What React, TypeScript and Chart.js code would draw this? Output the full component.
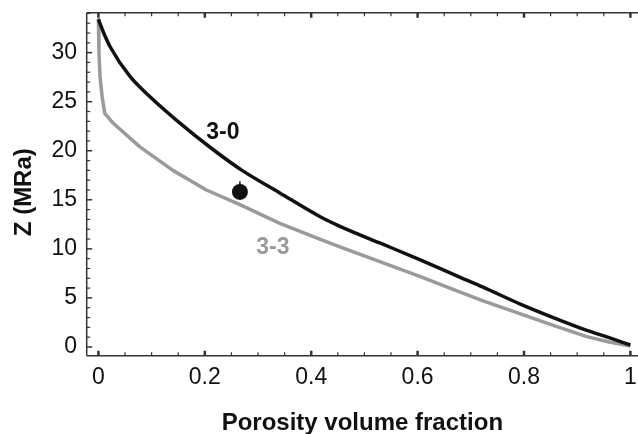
import React, { useEffect, useRef } from "react";
import { Chart, registerables } from "chart.js";

Chart.register(...registerables);

// ---- Data ----
const curve30X = [0, 0.01, 0.022, 0.059, 0.097, 0.147, 0.216, 0.27, 0.341, 0.416, 0.454, 0.529, 0.604, 0.68, 0.723, 0.792, 0.855, 0.918, 0.96, 1.0];
const curve30Y = [33.4, 32.0, 30.6, 27.6, 25.5, 23.1, 20.1, 18.0, 15.7, 13.3, 12.3, 10.6, 8.9, 7.1, 6.1, 4.4, 3.0, 1.7, 0.95, 0.2];

const curve33X = [0, 0.001, 0.003, 0.007, 0.012, 0.028, 0.078, 0.14, 0.203, 0.266, 0.341, 0.416, 0.454, 0.529, 0.604, 0.68, 0.723, 0.792, 0.855, 0.918, 0.96, 1.0];
const curve33Y = [33.4, 30.0, 27.6, 25.5, 23.8, 22.8, 20.4, 18.0, 16.0, 14.5, 12.6, 11.0, 10.2, 8.7, 7.2, 5.6, 4.7, 3.4, 2.2, 1.05, 0.5, 0.1];

const pointX = [0.266];
const pointY = [15.8];
const pointErrTop = [16.9];

const labelTexts = ["3-0", "3-3"];
const labelX = [0.234, 0.328];
const labelY = [21.8, 10.1];
const labelColors = ["#111111", "#999999"];

const xTickValues = [0, 0.2, 0.4, 0.6, 0.8, 1];
const yTickValues = [0, 5, 10, 15, 20, 25, 30];
const xMinorStep = 0.05;
const yMinorStep = 1;

const xTitle = "Porosity volume fraction";
const yTitle = "Z (MRa)";

const X_MIN = -0.022;
const X_MAX = 1.0143;
const Y_MIN = -0.89;
const Y_MAX = 34.07;

const FONT = "'Liberation Sans', Arial, Helvetica, sans-serif";

const framePlugin = {
  id: "frame",
  afterDatasetsDraw(chart: any) {
    const { ctx, chartArea, scales } = chart;
    const { left, top, bottom } = chartArea;
    const xs = scales.x;
    const ys = scales.y;
    const W = chart.width;
    ctx.save();
    ctx.strokeStyle = "#333333";
    ctx.lineWidth = 1.5;
    ctx.beginPath();
    ctx.moveTo(left, top);
    ctx.lineTo(W, top);
    ctx.moveTo(left, top);
    ctx.lineTo(left, bottom);
    ctx.moveTo(left, bottom);
    ctx.lineTo(W, bottom);
    ctx.stroke();

    const i0 = Math.ceil(xs.min / xMinorStep - 1e-9);
    const i1 = Math.floor(xs.max / xMinorStep + 1e-9);
    for (let i = i0; i <= i1; i++) {
      const v = i * xMinorStep;
      const major = xTickValues.some((t) => Math.abs(t - v) < 1e-6);
      const px = xs.getPixelForValue(v);
      ctx.lineWidth = major ? 2.5 : 1.2;
      const len = major ? 5 : 3.5;
      ctx.beginPath();
      ctx.moveTo(px, bottom);
      ctx.lineTo(px, bottom - len);
      ctx.moveTo(px, top);
      ctx.lineTo(px, top + len);
      ctx.stroke();
    }
    const j0 = Math.ceil(ys.min / yMinorStep - 1e-9);
    const j1 = Math.floor(ys.max / yMinorStep + 1e-9);
    for (let j = j0; j <= j1; j++) {
      const v = j * yMinorStep;
      const major = yTickValues.some((t) => Math.abs(t - v) < 1e-6);
      const py = ys.getPixelForValue(v);
      ctx.lineWidth = major ? 1.5 : 1.2;
      const len = major ? 5.5 : 3.5;
      ctx.beginPath();
      ctx.moveTo(left, py);
      ctx.lineTo(left + len, py);
      ctx.stroke();
    }

    ctx.font = `bold 23px ${FONT}`;
    ctx.textAlign = "center";
    ctx.textBaseline = "middle";
    for (let k = 0; k < labelTexts.length; k++) {
      ctx.fillStyle = labelColors[k];
      ctx.fillText(labelTexts[k], xs.getPixelForValue(labelX[k]), ys.getPixelForValue(labelY[k]));
    }

    // y-axis title (slightly below the axis centre, as in the reference)
    ctx.font = `bold 24px ${FONT}`;
    ctx.fillStyle = "#111111";
    ctx.translate(24, (top + bottom) / 2 + 8);
    ctx.rotate(-Math.PI / 2);
    ctx.fillText(yTitle, 0, 0);
    ctx.restore();
  },
};

const zeroPadding = (scale: any) => {
  scale.paddingTop = 0;
  scale.paddingBottom = 0;
  scale.paddingLeft = 0;
  scale.paddingRight = 0;
};

export default function App() {
  const canvasRef = useRef<HTMLCanvasElement | null>(null);

  useEffect(() => {
    if (!canvasRef.current) return;
    const chart = new Chart(canvasRef.current, {
      type: "scatter",
      data: {
        datasets: [
          {
            label: "3-3",
            data: curve33X.map((x, i) => ({ x, y: curve33Y[i] })),
            showLine: true,
            borderColor: "#9a9a9a",
            borderWidth: 3.5,
            borderJoinStyle: "round",
            pointRadius: 0,
            tension: 0,
            order: 3,
          },
          {
            label: "3-0",
            data: curve30X.map((x, i) => ({ x, y: curve30Y[i] })),
            showLine: true,
            borderColor: "#111111",
            borderWidth: 3.5,
            pointRadius: 0,
            cubicInterpolationMode: "monotone",
            order: 2,
          },
          {
            label: "err",
            data: [
              { x: pointX[0], y: pointY[0] },
              { x: pointX[0], y: pointErrTop[0] },
            ],
            showLine: true,
            borderColor: "#111111",
            borderWidth: 1.5,
            pointRadius: 0,
            order: 1,
          },
          {
            label: "measured",
            data: pointX.map((x, i) => ({ x, y: pointY[i] })),
            backgroundColor: "#111111",
            borderColor: "#111111",
            pointRadius: 8,
            pointBorderWidth: 0,
            order: 0,
          },
        ],
      },
      options: {
        animation: false,
        responsive: false,
        maintainAspectRatio: false,
        devicePixelRatio: 1,
        layout: { autoPadding: false, padding: { top: 12.7, left: 0, right: 0, bottom: 0 } },
        plugins: {
          legend: { display: false },
          tooltip: { enabled: false },
        },
        scales: {
          x: {
            type: "linear",
            min: X_MIN,
            max: X_MAX,
            grid: { display: false, drawTicks: false, tickLength: 0 },
            border: { display: false },
            afterBuildTicks: (scale: any) => {
              scale.ticks = xTickValues.map((v) => ({ value: v }));
            },
            afterFit: (scale: any) => {
              scale.height = 78.3;
              zeroPadding(scale);
            },
            ticks: {
              autoSkip: false,
              maxRotation: 0,
              padding: 8,
              color: "#111111",
              font: { family: FONT, size: 23 },
              callback: (v: any) => Number(v).toString(),
            },
            title: {
              display: true,
              text: xTitle,
              color: "#111111",
              font: { family: FONT, size: 24, weight: "bold", lineHeight: 0.875 },
              padding: { top: 21.7, bottom: 0 },
            },
          },
          y: {
            type: "linear",
            min: Y_MIN,
            max: Y_MAX,
            grid: { display: false, drawTicks: false, tickLength: 0 },
            border: { display: false },
            afterBuildTicks: (scale: any) => {
              scale.ticks = yTickValues.map((v) => ({ value: v }));
            },
            afterFit: (scale: any) => {
              scale.width = 86.7;
              zeroPadding(scale);
            },
            ticks: {
              autoSkip: false,
              padding: 9.7,
              color: "#111111",
              font: { family: FONT, size: 23 },
              callback: (v: any) => Number(v).toString(),
            },
            title: { display: false },
          },
        },
      },
      plugins: [framePlugin],
    });
    return () => chart.destroy();
  }, []);

  return (
    <div style={{ position: "fixed", left: 0, top: 0, width: 638, height: 434, background: "#ffffff" }}>
      <canvas ref={canvasRef} width={638} height={434} style={{ display: "block" }} />
    </div>
  );
}
